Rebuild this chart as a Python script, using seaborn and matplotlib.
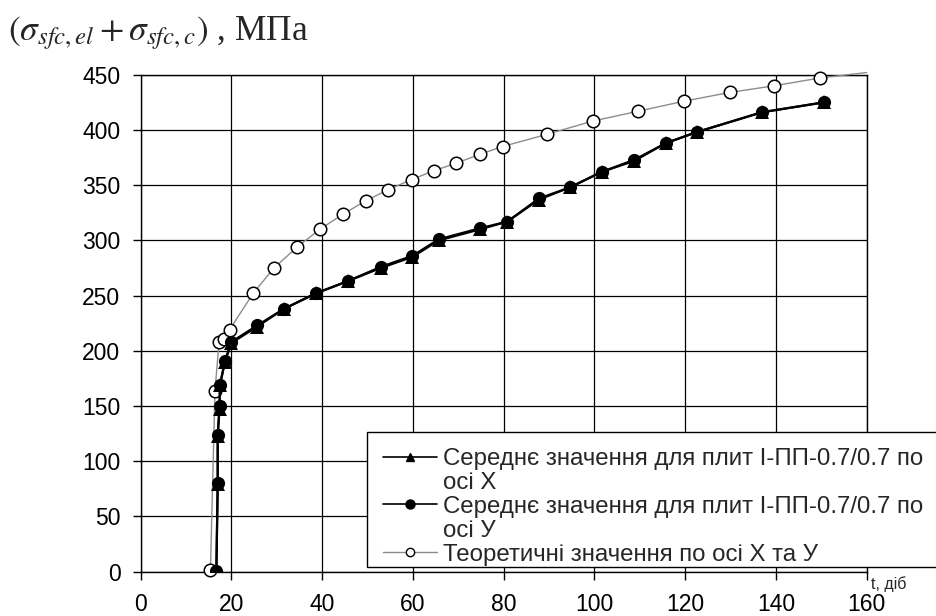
import matplotlib
matplotlib.use("Agg")
import matplotlib.pyplot as plt
from matplotlib.lines import Line2D
from matplotlib.patches import Rectangle
import seaborn as sns
import pandas as pd

# Середнє значення, вісь Х (трикутники)
days_x = [16.7, 17.0, 17.0, 17.4, 17.5, 18.6, 20.0, 25.7, 31.6, 38.6, 45.6, 52.9,
          59.9, 65.7, 74.8, 80.8, 87.8, 94.6, 101.6, 108.8, 115.7, 122.5, 136.9, 150.6]
stress_x = [0, 79, 123, 147, 169, 190, 207, 222, 238, 252, 263, 275,
            285, 300, 310, 317, 337, 348, 362, 372, 388, 398, 416, 425]

# Середнє значення, вісь У (заповнені кружки)
days_y = [16.7, 17.0, 17.0, 17.4, 17.5, 18.6, 20.0, 25.7, 31.6, 38.6, 45.6, 52.9,
          59.9, 65.7, 74.8, 80.8, 87.8, 94.6, 101.6, 108.8, 115.7, 122.5, 136.9, 150.6]
stress_y = [1, 80, 124, 150, 169, 191, 208, 223, 238, 252, 263, 276,
            286, 301, 311, 317, 338, 348, 362, 373, 388, 398, 416, 425]

# Теоретичні значення (порожні кружки)
days_t = [15.4, 16.4, 17.3, 18.3, 19.6, 24.8, 29.4, 34.5, 39.5, 44.7, 49.7, 54.6,
          59.7, 64.6, 69.6, 74.8, 79.8, 89.5, 99.6, 109.7, 119.7, 129.9, 139.6, 149.6, 160.0]
stress_t = [2, 164, 208, 211, 219, 252, 275, 294, 310, 324, 336, 346,
            355, 363, 370, 378, 385, 396, 408, 417, 426, 434, 440, 447, 452]

x_ticks = [0, 20, 40, 60, 80, 100, 120, 140, 160]
y_ticks = [0, 50, 100, 150, 200, 250, 300, 350, 400, 450]

labels = [
    "Середнє значення для плит І-ПП-0.7/0.7 по",
    "осі Х",
    "Середнє значення для плит І-ПП-0.7/0.7 по",
    "осі У",
    "Теоретичні значення по осі Х та У",
]

sns.set_style("ticks")
plt.rcParams["font.family"] = ["Liberation Sans", "DejaVu Sans"]
plt.rcParams["mathtext.fontset"] = "stix"

W, H = 937, 616
fig = plt.figure(figsize=(W / 100, H / 100), dpi=100)
ax = fig.add_axes([0.150, 0.0719, 0.775, 0.8068])

df_x = pd.DataFrame({"t": days_x, "s": stress_x})
df_y = pd.DataFrame({"t": days_y, "s": stress_y})
df_t = pd.DataFrame({"t": days_t, "s": stress_t})

sns.lineplot(data=df_t, x="t", y="s", ax=ax, sort=False, estimator=None,
             color="#8c8c8c", linewidth=1.0, marker="o", markersize=9,
             markerfacecolor="white", markeredgecolor="black", markeredgewidth=1.1,
             markevery=list(range(len(days_t) - 1)), clip_on=False, zorder=3)
sns.lineplot(data=df_x, x="t", y="s", ax=ax, sort=False, estimator=None,
             color="black", linewidth=1.6, marker="^", markersize=9.5,
             markeredgewidth=0, zorder=4)
sns.lineplot(data=df_y, x="t", y="s", ax=ax, sort=False, estimator=None,
             color="black", linewidth=1.6, marker="o", markersize=9.5,
             markeredgewidth=0, zorder=5)

ax.set_xlim(0, 160)
ax.set_ylim(0, 450)
ax.set_xticks(x_ticks)
ax.set_yticks(y_ticks)
ax.set_xlabel("")
ax.set_ylabel("")
ax.grid(True, color="black", linewidth=0.9)
ax.set_axisbelow(True)
for sp in ax.spines.values():
    sp.set_visible(True)
    sp.set_color("black")
    sp.set_linewidth(1.0)
ax.tick_params(axis="both", direction="out", length=5.5, width=1.0,
               color="black", labelsize=16.5, labelcolor="black")
ax.tick_params(axis="x", pad=10)
ax.tick_params(axis="y", pad=9)

# Рамка легенди (виходить за правий край рисунка)
frame = Rectangle((367 / W, 1 - 567 / H), (945 - 367) / W, 135 / H,
                  transform=fig.transFigure, facecolor="white",
                  edgecolor="black", linewidth=1.0, zorder=5, clip_on=False)
fig.patches.append(frame)

# Легенда з окремими рядками для переносу підпису
h_tri = Line2D([], [], color="black", linewidth=1.2, marker="^", markersize=6)
h_dot = Line2D([], [], color="black", linewidth=1.2, marker="o", markersize=6.5)
h_open = Line2D([], [], color="#8c8c8c", linewidth=1.0, marker="o", markersize=6,
                markerfacecolor="white", markeredgecolor="black")
h_blank = Line2D([], [], linestyle="none", marker="none")
leg = fig.legend([h_tri, h_blank, h_dot, h_blank, h_open], labels,
                 loc="upper left", bbox_to_anchor=(383 / W, 1 - 448 / H),
                 frameon=False, fontsize=17.3, handlelength=2.25,
                 handletextpad=0.25, borderpad=0, labelspacing=0.08,
                 borderaxespad=0)
leg.set_zorder(6)

fig.text(8 / W, 1 - 33 / H,
         r"$(\sigma_{sfc,el} + \sigma_{sfc,c})$ , МПа",
         fontsize=25.5, family=["Liberation Serif", "DejaVu Serif"],
         ha="left", va="center")
fig.text(871 / W, 1 - 584 / H, "t, діб", fontsize=11.5, ha="left", va="center")

fig.savefig("out.png", dpi=100)
